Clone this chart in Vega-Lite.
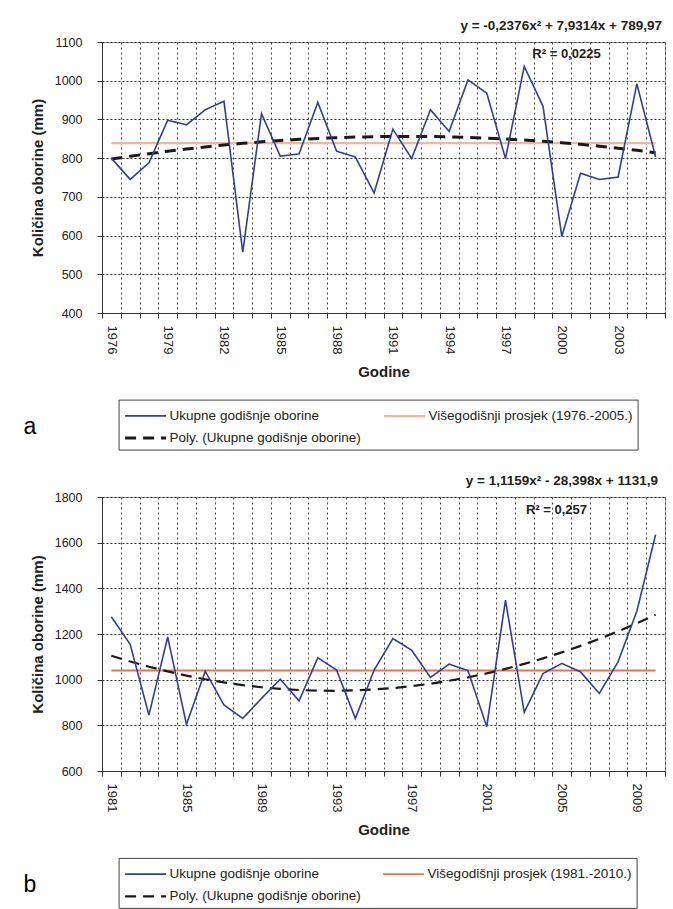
{
  "$schema": "https://vega.github.io/schema/vega-lite/v6.json",
  "background": "white",
  "padding": {"left": 22, "top": 18, "right": 0, "bottom": 0},
  "autosize": {"type": "pad"},
  "spacing": 22,
  "datasets": {
    "a": [
      {"g": "1976", "u": 800, "p": 839, "t": 797.7},
      {"g": "1977", "u": 745, "p": 839, "t": 804.9},
      {"g": "1978", "u": 788, "p": 839, "t": 811.6},
      {"g": "1979", "u": 898, "p": 839, "t": 817.9},
      {"g": "1980", "u": 886, "p": 839, "t": 823.7},
      {"g": "1981", "u": 925, "p": 839, "t": 829.0},
      {"g": "1982", "u": 947, "p": 839, "t": 833.9},
      {"g": "1983", "u": 557, "p": 839, "t": 838.2},
      {"g": "1984", "u": 915, "p": 839, "t": 842.1},
      {"g": "1985", "u": 805, "p": 839, "t": 845.5},
      {"g": "1986", "u": 811, "p": 839, "t": 848.5},
      {"g": "1987", "u": 944, "p": 839, "t": 850.9},
      {"g": "1988", "u": 818, "p": 839, "t": 852.9},
      {"g": "1989", "u": 803, "p": 839, "t": 854.4},
      {"g": "1990", "u": 710, "p": 839, "t": 855.5},
      {"g": "1991", "u": 875, "p": 839, "t": 856.1},
      {"g": "1992", "u": 799, "p": 839, "t": 856.1},
      {"g": "1993", "u": 925, "p": 839, "t": 855.8},
      {"g": "1994", "u": 869, "p": 839, "t": 854.9},
      {"g": "1995", "u": 1002, "p": 839, "t": 853.6},
      {"g": "1996", "u": 968, "p": 839, "t": 851.8},
      {"g": "1997", "u": 799, "p": 839, "t": 849.5},
      {"g": "1998", "u": 1037, "p": 839, "t": 846.7},
      {"g": "1999", "u": 934, "p": 839, "t": 843.5},
      {"g": "2000", "u": 598, "p": 839, "t": 839.8},
      {"g": "2001", "u": 761, "p": 839, "t": 835.6},
      {"g": "2002", "u": 745, "p": 839, "t": 830.9},
      {"g": "2003", "u": 751, "p": 839, "t": 825.8},
      {"g": "2004", "u": 992, "p": 839, "t": 820.2},
      {"g": "2005", "u": 803, "p": 839, "t": 814.1}
    ],
    "b": [
      {"g": "1981", "u": 1275, "p": 1040, "t": 1104.6},
      {"g": "1982", "u": 1155, "p": 1040, "t": 1079.6},
      {"g": "1983", "u": 845, "p": 1040, "t": 1056.8},
      {"g": "1984", "u": 1187, "p": 1040, "t": 1036.2},
      {"g": "1985", "u": 804, "p": 1040, "t": 1017.8},
      {"g": "1986", "u": 1037, "p": 1040, "t": 1001.7},
      {"g": "1987", "u": 889, "p": 1040, "t": 987.8},
      {"g": "1988", "u": 830, "p": 1040, "t": 976.1},
      {"g": "1989", "u": 918, "p": 1040, "t": 966.7},
      {"g": "1990", "u": 1002, "p": 1040, "t": 959.5},
      {"g": "1991", "u": 907, "p": 1040, "t": 954.6},
      {"g": "1992", "u": 1096, "p": 1040, "t": 951.8},
      {"g": "1993", "u": 1042, "p": 1040, "t": 951.3},
      {"g": "1994", "u": 830, "p": 1040, "t": 953.0},
      {"g": "1995", "u": 1042, "p": 1040, "t": 957.0},
      {"g": "1996", "u": 1180, "p": 1040, "t": 963.2},
      {"g": "1997", "u": 1129, "p": 1040, "t": 971.6},
      {"g": "1998", "u": 1010, "p": 1040, "t": 982.3},
      {"g": "1999", "u": 1068, "p": 1040, "t": 995.2},
      {"g": "2000", "u": 1040, "p": 1040, "t": 1010.3},
      {"g": "2001", "u": 794, "p": 1040, "t": 1027.7},
      {"g": "2002", "u": 1348, "p": 1040, "t": 1047.2},
      {"g": "2003", "u": 857, "p": 1040, "t": 1069.1},
      {"g": "2004", "u": 1027, "p": 1040, "t": 1093.1},
      {"g": "2005", "u": 1071, "p": 1040, "t": 1119.4},
      {"g": "2006", "u": 1034, "p": 1040, "t": 1147.9},
      {"g": "2007", "u": 940, "p": 1040, "t": 1178.7},
      {"g": "2008", "u": 1078, "p": 1040, "t": 1211.6},
      {"g": "2009", "u": 1300, "p": 1040, "t": 1246.8},
      {"g": "2010", "u": 1635, "p": 1040, "t": 1284.3}
    ]
  },
  "resolve": {
    "scale": {"color": "independent", "strokeDash": "independent", "strokeWidth": "independent"},
    "legend": {"color": "independent", "strokeDash": "independent", "strokeWidth": "independent"}
  },
  "vconcat": [
    {
      "width": 563,
      "height": 271,
      "data": {"name": "a"},
      "title": {
        "text": "y = -0,2376x² + 7,9314x + 789,97",
        "anchor": "end", "frame": "group", "offset": 4, "dx": -3,
        "font": "Liberation Sans", "fontSize": 13.5, "fontWeight": "bold", "color": "#222"
      },
      "layer": [
        {
          "transform": [{"fold": ["p"], "as": ["k", "v"]}],
          "mark": {"type": "line"},
          "encoding": {
            "x": {
              "field": "g", "type": "ordinal", "bandPosition": 0.5,
              "scale": {"type": "band", "paddingInner": 0, "paddingOuter": 0},
              "axis": {
                "orient": "bottom",
                "title": "Godine", "tickBand": "extent", "grid": true, "gridDash": [2, 3], "gridColor": "#444",
                "tickSize": 5, "tickColor": "#333", "domainColor": "#333",
                "labelAngle": 90, "labelAlign": "left", "labelBaseline": "middle", "labelPadding": 7,
                "labelFontSize": 13, "labelColor": "#222", "labelOverlap": false,
                "labelExpr": "(toNumber(datum.value) - 1976) % 3 == 0 ? datum.value : ''",
                "titleFontSize": 15, "titleFontWeight": "bold", "titleColor": "#222", "titlePadding": 11
              }
            },
            "y": {
              "field": "v", "type": "quantitative",
              "scale": {"domain": [400, 1100], "nice": false, "zero": false},
              "axis": {
                "title": "Količina oborine (mm)", "values": [400, 500, 600, 700, 800, 900, 1000, 1100], "format": "d",
                "grid": true, "gridDash": [2, 2], "gridColor": "#333",
                "tickSize": 5, "tickColor": "#333", "domainColor": "#333",
                "labelPadding": 15, "labelFont": "Liberation Sans Narrow, Liberation Sans", "labelFontSize": 12.5, "labelColor": "#222",
                "titleFontSize": 15, "titleFontWeight": "bold", "titleColor": "#222", "titlePadding": 9
              }
            },
            "color": {
              "field": "k", "type": "nominal",
              "scale": {"domain": ["u", "p", "t"], "range": ["#2f3ea3", "#f5b49b", "#1a1a1a"]},
              "legend": {
                "orient": "none", "legendX": 16.6, "legendY": 357.6, "columns": 2, "direction": "horizontal",
                "title": null, "symbolType": "M-1,0H3.1", "symbolSize": 400, "labelOffset": 23,
                "labelFontSize": 13.5, "labelColor": "#222", "labelLimit": 400, "columnPadding": 17, "rowPadding": 4,
                "padding": 5, "strokeColor": "#444", "fillColor": "#ffffff",
                "labelExpr": "datum.value == 'u' ? 'Ukupne godišnje oborine' : datum.value == 'p' ? 'Višegodišnji prosjek (1976.-2005.)' : 'Poly. (Ukupne godišnje oborine)'"
              }
            },
            "strokeDash": {
              "field": "k", "type": "nominal",
              "scale": {"domain": ["u", "p", "t"], "range": [[1, 0], [1, 0], [11, 7]]}
            },
            "strokeWidth": {
              "field": "k", "type": "nominal",
              "scale": {"domain": ["u", "p", "t"], "range": [1.6, 3, 2.2]}
            }
          }
        },
        {
          "transform": [{"fold": ["t"], "as": ["k", "v"]}],
          "mark": {"type": "line"},
          "encoding": {
            "x": {
              "field": "g", "type": "ordinal", "bandPosition": 0.5,
              "axis": {
                "orient": "top",
                "title": "R² = 0,0225", "domain": false, "ticks": false, "labels": false, "grid": false,
                "titleX": 464, "titleY": 11.6, "titleAlign": "center", "titleBaseline": "middle", "titleAngle": 0,
                "titleFontSize": 13, "titleFontWeight": "bold", "titleColor": "#222"
              }
            },
            "y": {
              "field": "v", "type": "quantitative",
              "axis": {
                "title": "Količina oborine (mm)", "values": [400, 500, 600, 700, 800, 900, 1000, 1100], "format": "d",
                "grid": true, "gridDash": [2, 2], "gridColor": "#333",
                "tickSize": 5, "tickColor": "#333", "domainColor": "#333",
                "labelPadding": 15, "labelFont": "Liberation Sans Narrow, Liberation Sans", "labelFontSize": 12.5, "labelColor": "#222",
                "titleFontSize": 15, "titleFontWeight": "bold", "titleColor": "#222", "titlePadding": 9
              }
            },
            "color": {"field": "k", "type": "nominal"},
            "strokeDash": {"field": "k", "type": "nominal"},
            "strokeWidth": {"field": "k", "type": "nominal"}
          }
        },
        {
          "transform": [{"fold": ["u"], "as": ["k", "v"]}],
          "mark": {"type": "line"},
          "encoding": {
            "x": {
              "field": "g", "type": "ordinal", "bandPosition": 0.5,
              "axis": {
                "orient": "top",
                "title": "a", "domain": false, "ticks": false, "labels": false, "grid": false,
                "titleX": -79, "titleY": 384, "titleAlign": "left", "titleBaseline": "middle", "titleAngle": 0,
                "titleFontSize": 23, "titleFontWeight": "normal", "titleColor": "#000"
              }
            },
            "y": {
              "field": "v", "type": "quantitative",
              "axis": {
                "title": "Količina oborine (mm)", "values": [400, 500, 600, 700, 800, 900, 1000, 1100], "format": "d",
                "grid": true, "gridDash": [2, 2], "gridColor": "#333",
                "tickSize": 5, "tickColor": "#333", "domainColor": "#333",
                "labelPadding": 15, "labelFont": "Liberation Sans Narrow, Liberation Sans", "labelFontSize": 12.5, "labelColor": "#222",
                "titleFontSize": 15, "titleFontWeight": "bold", "titleColor": "#222", "titlePadding": 9
              }
            },
            "color": {"field": "k", "type": "nominal"},
            "strokeDash": {"field": "k", "type": "nominal"},
            "strokeWidth": {"field": "k", "type": "nominal"}
          }
        }
      ],
      "resolve": {"axis": {"x": "independent"}}
    },
    {
      "width": 563,
      "height": 274,
      "data": {"name": "b"},
      "title": {
        "text": "y = 1,1159x² - 28,398x + 1131,9",
        "anchor": "end", "frame": "group", "offset": 4, "dx": -7,
        "font": "Liberation Sans", "fontSize": 13.5, "fontWeight": "bold", "color": "#222"
      },
      "layer": [
        {
          "transform": [{"fold": ["p"], "as": ["k", "v"]}],
          "mark": {"type": "line"},
          "encoding": {
            "x": {
              "field": "g", "type": "ordinal", "bandPosition": 0.5,
              "scale": {"type": "band", "paddingInner": 0, "paddingOuter": 0},
              "axis": {
                "orient": "bottom",
                "title": "Godine", "tickBand": "extent", "grid": true, "gridDash": [2, 3], "gridColor": "#444",
                "tickSize": 5, "tickColor": "#333", "domainColor": "#333",
                "labelAngle": 90, "labelAlign": "left", "labelBaseline": "middle", "labelPadding": 7,
                "labelFontSize": 13, "labelColor": "#222", "labelOverlap": false,
                "labelExpr": "(toNumber(datum.value) - 1981) % 4 == 0 ? datum.value : ''",
                "titleFontSize": 15, "titleFontWeight": "bold", "titleColor": "#222", "titlePadding": 11
              }
            },
            "y": {
              "field": "v", "type": "quantitative",
              "scale": {"domain": [600, 1800], "nice": false, "zero": false},
              "axis": {
                "title": "Količina oborine (mm)", "values": [600, 800, 1000, 1200, 1400, 1600, 1800], "format": "d",
                "grid": true, "gridDash": [2, 2], "gridColor": "#333",
                "tickSize": 5, "tickColor": "#333", "domainColor": "#333",
                "labelPadding": 15, "labelFont": "Liberation Sans Narrow, Liberation Sans", "labelFontSize": 12.5, "labelColor": "#222",
                "titleFontSize": 15, "titleFontWeight": "bold", "titleColor": "#222", "titlePadding": 9
              }
            },
            "color": {
              "field": "k", "type": "nominal",
              "scale": {"domain": ["u", "p", "t"], "range": ["#2f3ea3", "#f2704e", "#1a1a1a"]},
              "legend": {
                "orient": "none", "legendX": 16.6, "legendY": 360.9, "columns": 2, "direction": "horizontal",
                "title": null, "symbolType": "M-1,0H3.1", "symbolSize": 400, "labelOffset": 23,
                "labelFontSize": 13.5, "labelColor": "#222", "labelLimit": 400, "columnPadding": 17, "rowPadding": 4,
                "padding": 5, "strokeColor": "#444", "fillColor": "#ffffff",
                "labelExpr": "datum.value == 'u' ? 'Ukupne godišnje oborine' : datum.value == 'p' ? 'Višegodišnji prosjek (1981.-2010.)' : 'Poly. (Ukupne godišnje oborine)'"
              }
            },
            "strokeDash": {
              "field": "k", "type": "nominal",
              "scale": {"domain": ["u", "p", "t"], "range": [[1, 0], [1, 0], [11, 7]]}
            },
            "strokeWidth": {
              "field": "k", "type": "nominal",
              "scale": {"domain": ["u", "p", "t"], "range": [1.6, 2.2, 2.2]}
            }
          }
        },
        {
          "transform": [{"fold": ["t"], "as": ["k", "v"]}],
          "mark": {"type": "line"},
          "encoding": {
            "x": {
              "field": "g", "type": "ordinal", "bandPosition": 0.5,
              "axis": {
                "orient": "top",
                "title": "R² = 0,257", "domain": false, "ticks": false, "labels": false, "grid": false,
                "titleX": 454, "titleY": 12.6, "titleAlign": "center", "titleBaseline": "middle", "titleAngle": 0,
                "titleFontSize": 13, "titleFontWeight": "bold", "titleColor": "#222"
              }
            },
            "y": {
              "field": "v", "type": "quantitative",
              "axis": {
                "title": "Količina oborine (mm)", "values": [600, 800, 1000, 1200, 1400, 1600, 1800], "format": "d",
                "grid": true, "gridDash": [2, 2], "gridColor": "#333",
                "tickSize": 5, "tickColor": "#333", "domainColor": "#333",
                "labelPadding": 15, "labelFont": "Liberation Sans Narrow, Liberation Sans", "labelFontSize": 12.5, "labelColor": "#222",
                "titleFontSize": 15, "titleFontWeight": "bold", "titleColor": "#222", "titlePadding": 9
              }
            },
            "color": {"field": "k", "type": "nominal"},
            "strokeDash": {"field": "k", "type": "nominal"},
            "strokeWidth": {"field": "k", "type": "nominal"}
          }
        },
        {
          "transform": [{"fold": ["u"], "as": ["k", "v"]}],
          "mark": {"type": "line"},
          "encoding": {
            "x": {
              "field": "g", "type": "ordinal", "bandPosition": 0.5,
              "axis": {
                "orient": "top",
                "title": "b", "domain": false, "ticks": false, "labels": false, "grid": false,
                "titleX": -79, "titleY": 387, "titleAlign": "left", "titleBaseline": "middle", "titleAngle": 0,
                "titleFontSize": 23, "titleFontWeight": "normal", "titleColor": "#000"
              }
            },
            "y": {
              "field": "v", "type": "quantitative",
              "axis": {
                "title": "Količina oborine (mm)", "values": [600, 800, 1000, 1200, 1400, 1600, 1800], "format": "d",
                "grid": true, "gridDash": [2, 2], "gridColor": "#333",
                "tickSize": 5, "tickColor": "#333", "domainColor": "#333",
                "labelPadding": 15, "labelFont": "Liberation Sans Narrow, Liberation Sans", "labelFontSize": 12.5, "labelColor": "#222",
                "titleFontSize": 15, "titleFontWeight": "bold", "titleColor": "#222", "titlePadding": 9
              }
            },
            "color": {"field": "k", "type": "nominal"},
            "strokeDash": {"field": "k", "type": "nominal"},
            "strokeWidth": {"field": "k", "type": "nominal"}
          }
        }
      ],
      "resolve": {"axis": {"x": "independent"}}
    }
  ],
  "config": {
    "font": "Liberation Sans",
    "view": {"stroke": "#999"},
    "axis": {"labelFont": "Liberation Sans", "titleFont": "Liberation Sans"}
  }
}
